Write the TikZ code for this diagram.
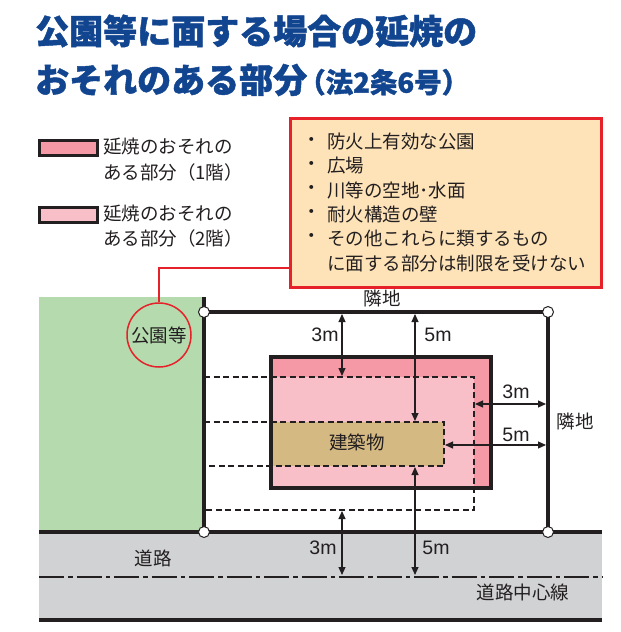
\documentclass[tikz,border=0pt]{standalone}
\usepackage{fontspec}
\newfontfamily\jp{Noto Sans CJK JP}
\newfontfamily\jpheavy[BoldFeatures={FakeBold=1.3}]{Noto Sans CJK JP}
\newfontfamily\lat{Liberation Sans}
\usetikzlibrary{arrows.meta}
\definecolor{ink}{HTML}{231F20}
\definecolor{titleblue}{HTML}{12458F}
\definecolor{pinkdark}{HTML}{F599A7}
\definecolor{pinklight}{HTML}{F9BFC8}
\definecolor{bldgtan}{HTML}{D5B982}
\definecolor{parkgreen}{HTML}{B5DAAE}
\definecolor{roadgray}{HTML}{D1D2D4}
\definecolor{calloutfill}{HTML}{FEE3B8}
\definecolor{calloutred}{HTML}{E6212A}
\begin{document}
\begin{tikzpicture}[x=1pt,y=-1pt,
  lbl/.style={font=\jp\fontsize{18.5}{20}\selectfont, text=ink, inner sep=0},
  num/.style={font=\lat\fontsize{19.5}{20}\selectfont, text=ink, inner sep=0},
  dimline/.style={line width=1.1pt, draw=ink, >={Triangle[length=8pt,width=7pt]}, <->},
  dashln/.style={line width=1.8pt, draw=ink, dash pattern=on 6pt off 3.5pt},
  bound/.style={line width=3.5pt, draw=ink},
  post/.style={circle, draw=ink, fill=white, line width=1pt, minimum size=11pt, inner sep=0},
  swatch/.style={draw=ink, line width=2.5pt, minimum width=58pt, minimum height=15pt, inner sep=0, anchor=north west},
  titlefont/.style={font=\jpheavy\bfseries\fontsize{34}{36}\selectfont, text=titleblue, inner sep=0, anchor=west},
]
\useasboundingbox (0,0) rectangle (621,632);
\fill[white] (0,0) rectangle (621,632);

% title
\node[titlefont] (title1) at (35,31) {公園等に面する場合の延焼の};
\node[titlefont] (title2) at (35,80) {おそれのある部分\hspace{-9pt}{\fontsize{27.5}{28}\selectfont （法2条6号）}};

% legend
\node[swatch, fill=pinkdark] (sw1) at (38,139) {};
\node[lbl, anchor=west] (lg1a) at (103,147) {延焼のおそれの};
\node[lbl, anchor=west] (lg1b) at (103,172) {ある部分（1階）};
\node[swatch, fill=pinklight] (sw2) at (38,206) {};
\node[lbl, anchor=west] (lg2a) at (103,214) {延焼のおそれの};
\node[lbl, anchor=west] (lg2b) at (103,238) {ある部分（2階）};

% callout
\node[draw=calloutred, fill=calloutfill, line width=2.5pt, minimum width=311pt, minimum height=169pt, anchor=north west, inner sep=0] (callout) at (289,117) {};
\foreach \yy/\tx [count=\i] in {142/防火上有効な公園, 166/広場, 190/川等の空地･水面, 214/耐火構造の壁, 238/その他これらに類するもの}{
  \node[lbl] (bul\i) at (312,\yy) {・};
  \node[lbl, anchor=west] (item\i) at (327,\yy) {\tx};
}
\node[lbl, anchor=west] (item6) at (327,263) {に面する部分は制限を受けない};

% regions
\fill[parkgreen] (39,297) rectangle (204,532);
\fill[roadgray] (39,532) rectangle (602,620);
\fill[pinkdark] (271,357) rectangle (491,488);
\fill[pinklight] (271,377) rectangle (474,488);
\fill[bldgtan] (271,422) rectangle (444,466);

% dashed lines
\draw[dashln] (204,377) -- (474,377) -- (474,510) -- (204,510);
\draw[dashln] (204,422) -- (444,422) -- (444,466) -- (204,466);

% 1F outline
\draw[line width=3.2pt, draw=ink] (271,357) rectangle (491,488);

% boundaries
\draw[bound] (204,297) -- (204,532);
\draw[bound] (204,312) -- (548,312) -- (548,532);
\draw[bound] (39,532) -- (602,532);
\draw[bound] (39,620) -- (602,620);

% road centre line
\draw[line width=1.8pt, draw=ink, dash pattern=on 25pt off 4pt on 4.5pt off 4pt] (39,577) -- (602,577);

% posts
\node[post] (p1) at (204,312) {};
\node[post] (p2) at (548,312) {};
\node[post] (p3) at (204,532) {};
\node[post] (p4) at (548,532) {};

% dimension end points
\coordinate (t3a) at (342,314); \coordinate (t3b) at (342,376);
\coordinate (t5a) at (415,314); \coordinate (t5b) at (415,421);
\coordinate (r3a) at (475,404); \coordinate (r3b) at (546,404);
\coordinate (r5a) at (445,445); \coordinate (r5b) at (546,445);
\coordinate (b3a) at (342,511); \coordinate (b3b) at (342,575);
\coordinate (b5a) at (415,467); \coordinate (b5b) at (415,575);
\draw[dimline] (t3a) -- (t3b);
\draw[dimline] (t5a) -- (t5b);
\draw[dimline] (r3a) -- (r3b);
\draw[dimline] (r5a) -- (r5b);
\draw[dimline] (b3a) -- (b3b);
\draw[dimline] (b5a) -- (b5b);

% numbers
\node[num] (n1) at (325,335) {3m};
\node[num] (n2) at (438,335) {5m};
\node[num] (n3) at (516,392) {3m};
\node[num] (n4) at (516,435) {5m};
\node[num] (n5) at (323,548) {3m};
\node[num] (n6) at (436,548) {5m};

% labels
\node[lbl] (bldg) at (357,442) {建築物};
\node[lbl] (ntop) at (382,298) {隣地};
\node[lbl] (nright) at (575,421) {隣地};
\node[lbl] (road) at (153,558) {道路};
\node[lbl] (cline) at (523,592) {道路中心線};

% park circle and connector
\node[circle, draw=calloutred, line width=1.5pt, minimum size=64pt, inner sep=0, lbl] (park) at (159,335) {公園等};
\coordinate (elbow) at (159,268);
\draw[calloutred, line width=2pt] (park.north) -- (elbow) -- (elbow -| callout.west);
\end{tikzpicture}
\end{document}
